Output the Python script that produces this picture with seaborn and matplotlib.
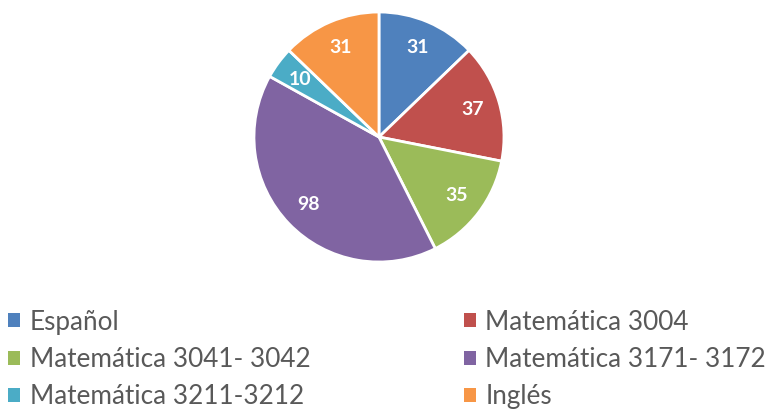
import matplotlib
matplotlib.use("Agg")
import matplotlib.pyplot as plt
from matplotlib.patches import Patch
import seaborn as sns

# data
materias = ["Español", "Matemática 3004", "Matemática 3041- 3042",
            "Matemática 3171- 3172", "Matemática 3211-3212", "Inglés"]
estudiantes = [31, 37, 35, 98, 10, 31]
colores = ["#4F81BD", "#C0504D", "#9BBB59", "#8064A2", "#4BACC6", "#F79646"]

sns.set_theme(style="white")
plt.rcParams["font.family"] = ["Lato", "DejaVu Sans"]

fig = plt.figure(figsize=(7.75, 4.11), dpi=100)
ax = fig.add_axes([0.3277, 0.3625, 0.3226, 0.6083])

total = sum(estudiantes)
wedges, _, autotexts = ax.pie(
    estudiantes,
    colors=sns.color_palette(colores),
    startangle=90,
    counterclock=False,
    autopct=lambda p: f"{p * total / 100:.0f}",
    pctdistance=0.78,
    wedgeprops=dict(edgecolor="white", linewidth=2),
    textprops=dict(color="white", fontsize=14, fontweight="bold"),
)
ax.set_xlim(-1, 1)
ax.set_ylim(-1, 1)
ax.set_aspect("equal")
ax.axis("off")

# legend filled row by row like the original
order = [0, 2, 4, 1, 3, 5]
handles = [Patch(facecolor=colores[i], edgecolor="none") for i in order]
labels = [materias[i] for i in order]
fig.legend(
    handles, labels,
    loc="upper left", bbox_to_anchor=(-0.003, 0.272),
    ncol=2, frameon=False,
    fontsize=18.8, labelcolor="#595959",
    handlelength=0.46, handleheight=0.46, handletextpad=0.38,
    columnspacing=5.85, labelspacing=0.47, borderaxespad=0,
)

fig.savefig("out.png", dpi=100)
